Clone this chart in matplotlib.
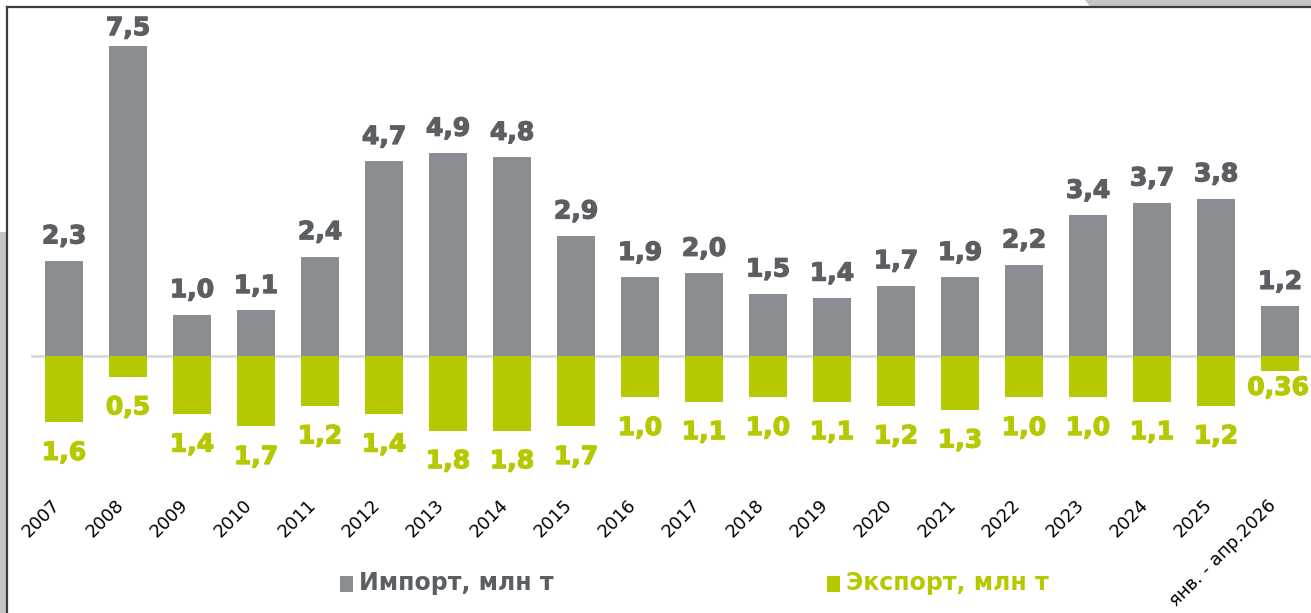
import matplotlib
matplotlib.use("Agg")
import matplotlib.pyplot as plt
import matplotlib.patheffects as pe
from matplotlib.patches import Rectangle, Polygon
from matplotlib.lines import Line2D

# ---------------------------------------------------------------------
# Data
# ---------------------------------------------------------------------
years = ['2007', '2008', '2009', '2010', '2011', '2012', '2013', '2014', '2015', '2016',
         '2017', '2018', '2019', '2020', '2021', '2022', '2023', '2024', '2025',
         'янв. - апр.2026']
imports = [2.3, 7.5, 1.0, 1.1, 2.4, 4.7, 4.9, 4.8, 2.9, 1.9,
           2.0, 1.5, 1.4, 1.7, 1.9, 2.2, 3.4, 3.7, 3.8, 1.2]
exports = [1.6, 0.5, 1.4, 1.7, 1.2, 1.4, 1.8, 1.8, 1.7, 1.0,
           1.1, 1.0, 1.1, 1.2, 1.3, 1.0, 1.0, 1.1, 1.2, 0.36]
import_labels = ['2,3', '7,5', '1,0', '1,1', '2,4', '4,7', '4,9', '4,8', '2,9', '1,9',
                 '2,0', '1,5', '1,4', '1,7', '1,9', '2,2', '3,4', '3,7', '3,8', '1,2']
export_labels = ['1,6', '0,5', '1,4', '1,7', '1,2', '1,4', '1,8', '1,8', '1,7', '1,0',
                 '1,1', '1,0', '1,1', '1,2', '1,3', '1,0', '1,0', '1,1', '1,2', '0,36']
legend_names = ['Импорт, млн т', 'Экспорт, млн т']

GRAY = '#8a8d91'
GRAY_TXT = '#5b5e62'
GREEN = '#b5c800'

W, H = 1311, 613
fig = plt.figure(figsize=(W / 100, H / 100), dpi=100)
fig.patch.set_facecolor('white')

# frame decorations (slide background showing around the chart box)
fig.patches.append(Rectangle((0, 0), 7 / W, (H - 232) / H, transform=fig.transFigure,
                             facecolor='#c3c4c6', edgecolor='none'))
fig.patches.append(Polygon([(1085 / W, 1), (1, 1), (1, (H - 7) / H), (1090 / W, (H - 7) / H)],
                           closed=True, transform=fig.transFigure,
                           facecolor='#c3c4c6', edgecolor='none'))
fig.lines.append(Line2D([7 / W, 7 / W], [0, (H - 7) / H], transform=fig.transFigure,
                        color='#3c3c3c', lw=1.6))
fig.lines.append(Line2D([7 / W, 1], [(H - 7) / H, (H - 7) / H], transform=fig.transFigure,
                        color='#3c3c3c', lw=1.6))

ax = fig.add_axes([0, 0, 1, 1])
ax.set_facecolor('none')
ax.axis('off')

px = 41.4  # pixels per unit
ax.set_xlim(-1.0, (W - 64) / 64)
ax.set_ylim(-(H - 356) / px, 356 / px)

x = list(range(len(years)))
ax.bar(x, imports, width=0.6, color=GRAY, zorder=2)
ax.bar(x, [-e for e in exports], width=0.6, color=GREEN, zorder=2)
ax.axhline(0, xmin=32 / W, xmax=1, color='#d9d9d9', lw=2, zorder=1)

heavy_gray = [pe.withStroke(linewidth=0.9, foreground=GRAY_TXT)]
heavy_green = [pe.withStroke(linewidth=0.9, foreground=GREEN)]

for i in x:
    # label kept below the frame's top edge
    ax.text(i, min(imports[i] + 0.3, 7.63), import_labels[i], ha='center', va='bottom',
            fontsize=18, fontweight='bold', color=GRAY_TXT, path_effects=heavy_gray)
    if i == len(years) - 1:
        ax.text(i - 0.03, -exports[i] - 0.12, export_labels[i], ha='center', va='top',
                fontsize=18, fontweight='bold', color=GREEN, path_effects=heavy_green)
    else:
        ax.text(i, -exports[i] - 0.45, export_labels[i], ha='center', va='top',
                fontsize=18, fontweight='bold', color=GREEN, path_effects=heavy_green)
    ax.text(i, -(496 - 356) / px, years[i], ha='right', va='top', rotation=45,
            fontsize=13, color='black')

# legend
for xs, name, c, tc in [(340, legend_names[0], GRAY, GRAY_TXT), (827, legend_names[1], GREEN, GREEN)]:
    fig.patches.append(Rectangle((xs / W, (H - 592) / H), 13 / W, 16 / H,
                                 transform=fig.transFigure, facecolor=c, edgecolor='none'))
    fig.text((xs + 19) / W, (H - 583) / H, name, ha='left', va='center',
             fontsize=17, fontweight='bold', color=tc)

fig.savefig('out.png', dpi=100)
